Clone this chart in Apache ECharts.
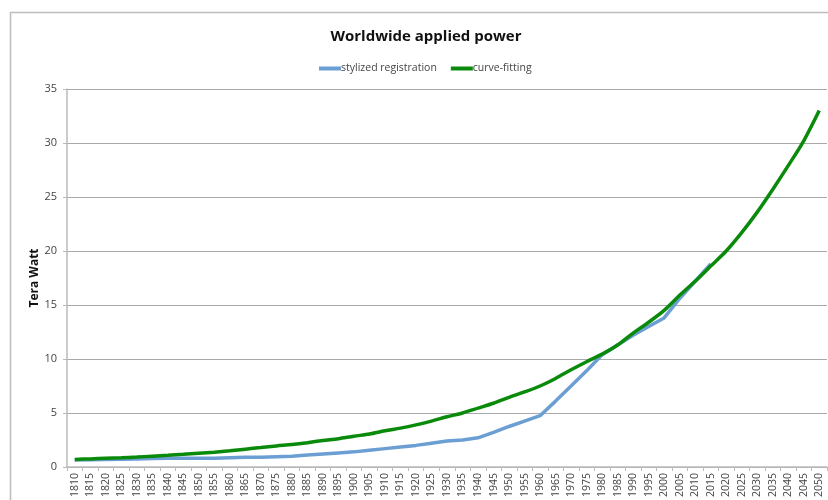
<!DOCTYPE html>
<html>
<head>
<meta charset="utf-8">
<script src="https://cdn.jsdelivr.net/npm/echarts@6/dist/echarts.min.js"></script>
<style>html,body{margin:0;padding:0;background:#fff;}#c{width:828px;height:500px;}</style>
</head>
<body>
<div id="c"></div>
<script>
var years = [];
for (var y = 1810; y <= 2050; y += 5) years.push(String(y));

var stylized = [0.65,0.68,0.7,0.72,0.75,0.78,0.8,0.8,0.8,0.8,0.85,0.9,0.9,0.95,1.0,1.1,1.2,1.3,1.4,1.55,1.7,1.85,2.0,2.2,2.4,2.5,2.7,3.2,3.75,4.25,4.75,6.1,7.5,8.9,10.4,11.3,12.2,13.0,13.8,15.6,17.2,18.8,null,null,null,null,null,null,null];

var curveFit = [0.7,0.75,0.8,0.85,0.92,1.0,1.08,1.17,1.27,1.37,1.5,1.65,1.8,1.95,2.08,2.25,2.45,2.62,2.85,3.05,3.35,3.6,3.9,4.25,4.65,5.0,5.45,5.9,6.45,6.95,7.5,8.2,9.0,9.75,10.45,11.3,12.4,13.4,14.5,15.9,17.2,18.6,20.0,21.7,23.6,25.7,27.9,30.2,33.0];

var chart = echarts.init(document.getElementById('c'));
chart.setOption({
  animation: false,
  backgroundColor: '#fff',
  textStyle: { fontFamily: 'Open Sans, Liberation Sans, sans-serif' },
  graphic: [{
    type: 'rect',
    shape: { x: 10.5, y: 12.5, width: 830, height: 500 },
    style: { fill: 'none', stroke: '#bdbdbd', lineWidth: 1.5 },
    silent: true
  }],
  title: {
    text: 'Worldwide applied power',
    left: 421, top: 24, textAlign: 'center',
    textStyle: { fontSize: 15, fontWeight: 'bold', color: '#111', fontFamily: 'Open Sans, sans-serif' }
  },
  legend: {
    top: 58, left: 314, itemGap: 14,
    itemWidth: 22, itemHeight: 4,
    icon: 'rect',
    textStyle: { fontSize: 10.5, color: '#444', padding: [0,0,0,-5] },
    data: ['stylized registration', 'curve-fitting']
  },
  grid: { left: 67, right: 1, top: 89, bottom: 33, containLabel: false },
  xAxis: {
    type: 'category',
    data: years,
    boundaryGap: true,
    axisLine: { lineStyle: { color: '#bbbbbb', width: 1.5 } },
    axisTick: { show: true, length: 4, lineStyle: { color: '#bbbbbb' } },
    axisLabel: { rotate: 90, interval: 0, fontSize: 10.5, color: '#444', margin: 6 }
  },
  yAxis: {
    type: 'value',
    min: 0, max: 35, interval: 5,
    name: 'Tera Watt',
    nameLocation: 'middle',
    nameGap: 26,
    nameMoveOverlap: false,
    nameTextStyle: { fontSize: 12, fontWeight: 'bold', color: '#111' },
    axisLine: { show: true, lineStyle: { color: '#bbbbbb', width: 1.5 } },
    axisTick: { show: true, length: 4, lineStyle: { color: '#bbbbbb' } },
    axisLabel: { fontSize: 11, color: '#444', margin: 10 },
    splitLine: { lineStyle: { color: '#aaaaaa', width: 1 } }
  },
  series: [
    {
      name: 'stylized registration', type: 'line', data: stylized,
      showSymbol: false, symbol: 'none',
      lineStyle: { color: '#6b9fd4', width: 3.5 },
      itemStyle: { color: '#6b9fd4' },
      connectNulls: false
    },
    {
      name: 'curve-fitting', type: 'line', data: curveFit,
      showSymbol: false, symbol: 'none', smooth: 0.3,
      lineStyle: { color: '#0a8a0a', width: 3.5 },
      itemStyle: { color: '#0a8a0a' }
    }
  ]
});
</script>
</body>
</html>
